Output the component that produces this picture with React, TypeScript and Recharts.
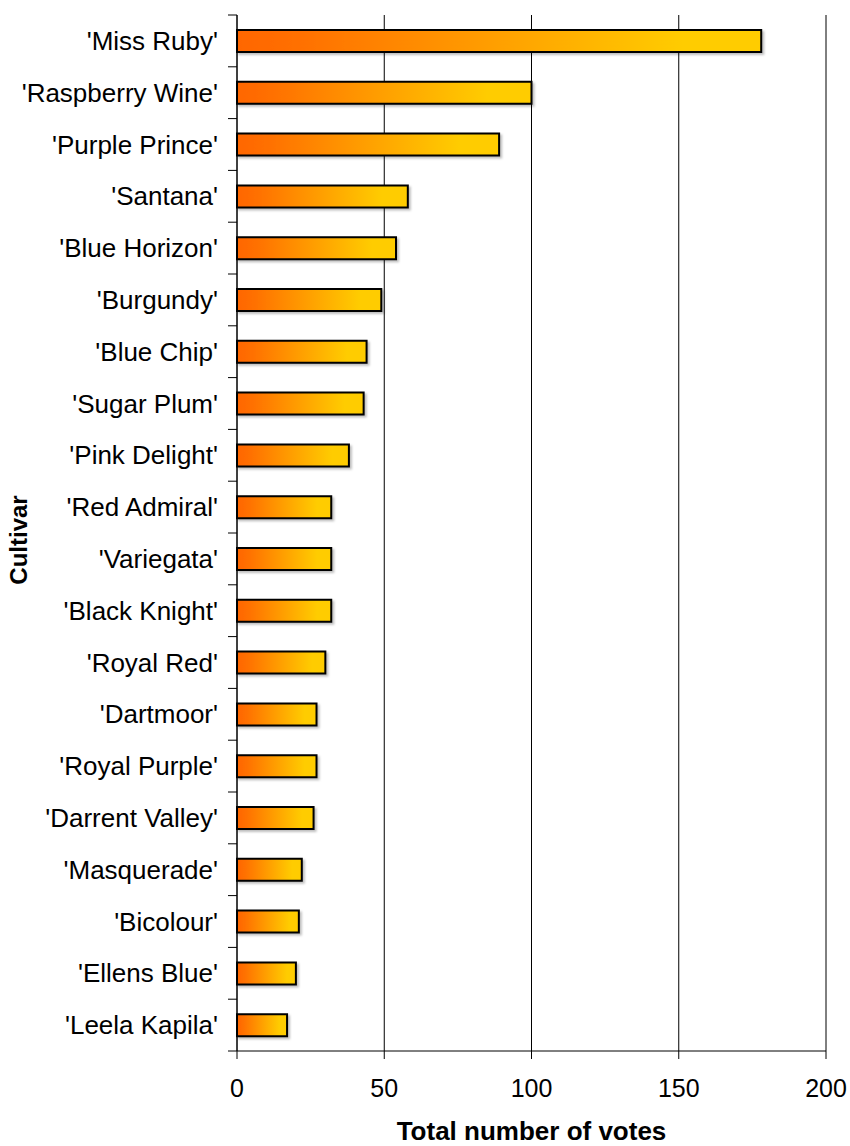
import { BarChart, Bar, XAxis, YAxis, CartesianGrid } from 'recharts';

const cultivars = [
  "'Miss Ruby'",
  "'Raspberry Wine'",
  "'Purple Prince'",
  "'Santana'",
  "'Blue Horizon'",
  "'Burgundy'",
  "'Blue Chip'",
  "'Sugar Plum'",
  "'Pink Delight'",
  "'Red Admiral'",
  "'Variegata'",
  "'Black Knight'",
  "'Royal Red'",
  "'Dartmoor'",
  "'Royal Purple'",
  "'Darrent Valley'",
  "'Masquerade'",
  "'Bicolour'",
  "'Ellens Blue'",
  "'Leela Kapila'",
];
const votes = [178, 100, 89, 58, 54, 49, 44, 43, 38, 32, 32, 32, 30, 27, 27, 26, 22, 21, 20, 17];
const xTicks = [0, 50, 100, 150, 200];

const data = cultivars.map((name, i) => ({ name, votes: votes[i] }));

const W = 850;
const H = 1146;
const TOP = 15;
const AXIS_W = 237;
const X_AXIS_H = 95;
const RIGHT = 24;
const band = (H - TOP - X_AXIS_H) / cultivars.length;
const font = '"Liberation Sans", Arial, sans-serif';

const CatTick = (props: any) => {
  const { y, payload, index } = props;
  const last = index === cultivars.length - 1;
  return (
    <g>
      <line x1={AXIS_W - 9} x2={AXIS_W} y1={y - band / 2} y2={y - band / 2} stroke="#000" />
      {last && <line x1={AXIS_W - 9} x2={AXIS_W} y1={y + band / 2} y2={y + band / 2} stroke="#000" />}
      <text x={AXIS_W - 19} y={y} textAnchor="end" dominantBaseline="central" fontFamily={font} fontSize={26} fill="#000">
        {payload.value}
      </text>
    </g>
  );
};

const NumTick = (props: any) => {
  const { x, payload } = props;
  return (
    <text x={x} y={1088} textAnchor="middle" dominantBaseline="central" fontFamily={font} fontSize={25} fill="#000">
      {payload.value}
    </text>
  );
};

const App = () => {
  const plotW = W - AXIS_W - RIGHT;
  return (
    <div style={{ position: 'absolute', left: 0, top: 0, background: '#fff' }}>
      <BarChart
        width={W}
        height={H}
        data={data}
        layout="vertical"
        margin={{ top: TOP, right: RIGHT, bottom: 0, left: 0 }}
      >
        <defs>
          <linearGradient id="barGrad" x1="0" y1="0" x2="1" y2="0">
            <stop offset="0" stopColor="#FF6600" />
            <stop offset="0.12" stopColor="#FF7000" />
            <stop offset="0.85" stopColor="#FFCC00" />
            <stop offset="1" stopColor="#FFCC00" />
          </linearGradient>
          <filter id="shadow" x="-5%" y="-20%" width="115%" height="160%">
            <feDropShadow dx="2" dy="2" stdDeviation="1" floodColor="#000" floodOpacity="0.25" />
          </filter>
        </defs>
        <CartesianGrid horizontal={false} stroke="#000" strokeWidth={1} />
        <XAxis
          type="number"
          domain={[0, 200]}
          ticks={xTicks}
          interval={0}
          height={X_AXIS_H}
          tickSize={8}
          axisLine={{ stroke: '#000' }}
          tickLine={{ stroke: '#000' }}
          tick={<NumTick />}
          label={{
            content: () => (
              <text x={AXIS_W + plotW / 2} y={1131} textAnchor="middle" dominantBaseline="central" fontFamily={font} fontSize={26} fontWeight="bold" fill="#000">
                Total number of votes
              </text>
            ),
          }}
        />
        <YAxis
          type="category"
          dataKey="name"
          width={AXIS_W}
          interval={0}
          tickLine={false}
          axisLine={{ stroke: '#000' }}
          tick={<CatTick />}
          label={{
            content: () => (
              <text
                x={18}
                y={540}
                textAnchor="middle"
                dominantBaseline="central"
                transform="rotate(-90 18 540)"
                fontFamily={font}
                fontSize={24}
                fontWeight="bold"
                fill="#000"
              >
                Cultivar
              </text>
            ),
          }}
        />
        <Bar
          dataKey="votes"
          fill="url(#barGrad)"
          stroke="#000"
          strokeWidth={2}
          barSize={22}
          filter="url(#shadow)"
          isAnimationActive={false}
        />
      </BarChart>
    </div>
  );
};

export default App;
